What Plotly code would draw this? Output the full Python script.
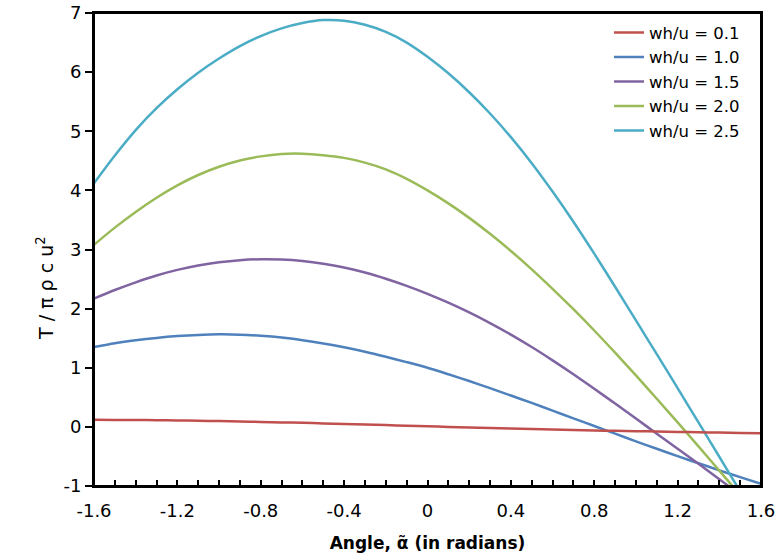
import plotly.graph_objects as go

# Data
angle = [-1.6, -1.5, -1.4, -1.3, -1.2, -1.1, -1.0, -0.9, -0.8, -0.7, -0.6, -0.5, -0.4,
         -0.3, -0.2, -0.1, 0.0, 0.1, 0.2, 0.3, 0.4, 0.5, 0.6, 0.7, 0.8, 0.9, 1.0,
         1.1, 1.2, 1.3, 1.4, 1.5, 1.6]

t_01 = [0.120, 0.118, 0.116, 0.113, 0.109, 0.104, 0.098, 0.091, 0.084, 0.076, 0.068,
        0.059, 0.050, 0.040, 0.030, 0.020, 0.010, 0.000, -0.010, -0.019, -0.028,
        -0.037, -0.045, -0.053, -0.060, -0.067, -0.073, -0.079, -0.085, -0.090,
        -0.097, -0.103, -0.108]
t_10 = [1.35, 1.415, 1.465, 1.505, 1.535, 1.555, 1.565, 1.56, 1.54, 1.51, 1.465, 1.41,
        1.345, 1.27, 1.185, 1.095, 1.0, 0.89, 0.775, 0.655, 0.53, 0.405, 0.275, 0.145,
        0.015, -0.115, -0.245, -0.37, -0.495, -0.615, -0.735, -0.85, -0.965]
t_15 = [2.17, 2.315, 2.445, 2.56, 2.655, 2.73, 2.785, 2.82, 2.835, 2.83, 2.805, 2.76,
        2.695, 2.61, 2.505, 2.385, 2.25, 2.10, 1.935, 1.755, 1.56, 1.35, 1.125, 0.89,
        0.645, 0.395, 0.14, -0.115, -0.37, -0.625, -0.885, -1.145, -1.405]
t_20 = [3.08, 3.37, 3.635, 3.875, 4.085, 4.26, 4.40, 4.505, 4.575, 4.615, 4.62, 4.595,
        4.55, 4.47, 4.355, 4.195, 4.00, 3.78, 3.535, 3.265, 2.975, 2.665, 2.335, 1.99,
        1.63, 1.255, 0.87, 0.475, 0.075, -0.33, -0.74, -1.155, -1.575]
t_25 = [4.12, 4.59, 5.02, 5.39, 5.71, 5.99, 6.23, 6.44, 6.61, 6.74, 6.83, 6.88, 6.87,
        6.80, 6.68, 6.50, 6.26, 5.98, 5.66, 5.30, 4.90, 4.46, 3.98, 3.47, 2.93,
        2.37, 1.80, 1.23, 0.655, 0.075, -0.505, -1.09, -1.68]

series_names = ["wh/u = 0.1", "wh/u = 1.0", "wh/u = 1.5", "wh/u = 2.0", "wh/u = 2.5"]
series_values = [t_01, t_10, t_15, t_20, t_25]
series_colors = ["#C0504D", "#4F81BD", "#8064A2", "#9BBB59", "#4BACC6"]

x_tickvals = [-1.6, -1.2, -0.8, -0.4, 0, 0.4, 0.8, 1.2, 1.6]
x_ticktext = ["-1.6", "-1.2", "-0.8", "-0.4", "0", "0.4", "0.8", "1.2", "1.6"]
y_tickvals = [-1, 0, 1, 2, 3, 4, 5, 6, 7]
y_ticktext = ["-1", "0", "1", "2", "3", "4", "5", "6", "7"]

FONT = "DejaVu Sans"

fig = go.Figure()
for i, (name, vals, col) in enumerate(zip(series_names, series_values, series_colors)):
    fig.add_trace(go.Scatter(
        x=angle, y=vals, mode="lines", name=name,
        xaxis="x2" if i == 0 else "x",
        line=dict(color=col, width=2.5, shape="spline", smoothing=0.8),
    ))

fig.update_layout(
    width=779, height=560,
    margin=dict(l=94, r=18, t=13, b=74),
    paper_bgcolor="white", plot_bgcolor="white",
    font=dict(family=FONT, size=17, color="black"),
    showlegend=True,
    legend=dict(
        x=0.7721, y=0.995, xanchor="left", yanchor="top",
        bgcolor="rgba(255,255,255,0)", borderwidth=0,
        font=dict(family=FONT, size=16.5, color="black"),
        tracegroupgap=0, itemwidth=30,
    ),
    # primary x axis: frame line and inside tick marks only
    xaxis=dict(
        range=[-1.6, 1.6], tickvals=x_tickvals, showticklabels=False,
        ticks="inside", ticklen=6, tickwidth=1.5, tickcolor="black",
        minor=dict(ticks="inside", dtick=0.1, ticklen=6, tickwidth=1.5, tickcolor="black"),
        showline=True, linecolor="black", linewidth=2, mirror=True,
        showgrid=False, zeroline=False, automargin=False,
    ),
    # overlaid x axis: tick labels and title
    xaxis2=dict(
        overlaying="x", anchor="y", side="bottom", matches="x",
        range=[-1.6, 1.6], tickvals=x_tickvals, ticktext=x_ticktext,
        ticks="outside", ticklen=8, tickcolor="rgba(0,0,0,0)",
        showline=False, showgrid=False, zeroline=False, automargin=False,
        tickfont=dict(size=18),
        title=dict(text="<b>Angle, α̃ (in radians)</b>", font=dict(size=17), standoff=17),
    ),
    yaxis=dict(
        range=[-1, 7], tickvals=y_tickvals, ticktext=y_ticktext,
        ticks="outside", ticklen=7, tickwidth=1.5, tickcolor="black",
        showline=True, linecolor="black", linewidth=2, mirror=True,
        showgrid=False, zeroline=False, automargin=False,
        tickfont=dict(size=18),
    ),
    shapes=[dict(
        type="rect", xref="paper", yref="paper", x0=0, y0=0, x1=1, y1=1,
        line=dict(color="black", width=2), fillcolor="rgba(0,0,0,0)", layer="above",
    )],
    annotations=[dict(
        text="T / π ρ c u<sup>2</sup>", textangle=-90,
        xref="paper", yref="paper", x=-0.0735, y=0.4186,
        xanchor="center", yanchor="middle", showarrow=False,
        font=dict(family=FONT, size=19, color="black"),
    )],
)

# Remove the default page margin so the figure sits at the window's top-left corner.
fig.write_html(
    "out.html",
    config={"displayModeBar": False},
    post_script="document.body.style.margin='0';document.documentElement.style.overflow='hidden';",
)
